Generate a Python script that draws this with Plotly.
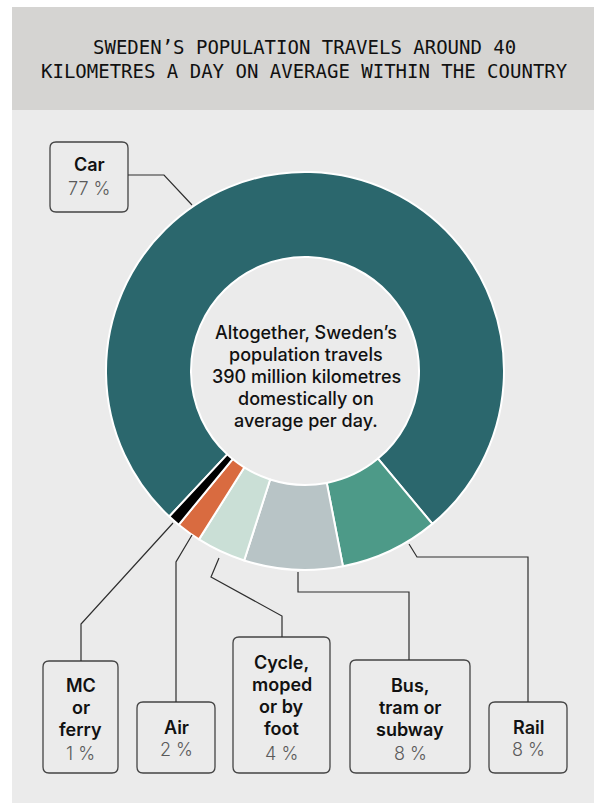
import plotly.graph_objects as go

# ---------------- data ----------------
categories = ["Car", "Rail", "Bus, tram or subway", "Cycle, moped or by foot", "Air", "MC or ferry"]
shares = [77, 8, 8, 4, 2, 1]
label_text = ["Car", "Rail", "Bus,<br>tram or<br>subway", "Cycle,<br>moped<br>or by<br>foot", "Air", "MC<br>or<br>ferry"]
slice_colors = ["#2b676d", "#4d9a88", "#b8c4c6", "#cadfd6", "#d96b40", "#000000"]
title_lines = ["SWEDEN\u2019S POPULATION TRAVELS AROUND 40",
               "KILOMETRES A DAY ON AVERAGE WITHIN THE COUNTRY"]
center_lines = ["Altogether, Sweden\u2019s", "population travels",
                "390 million kilometres", "domestically on", "average per day."]

# ---------------- layout geometry (pixels) ----------------
W, H = 594, 803
CX, CY, R_OUT, R_IN = 305, 371, 199, 114
LINE = 22  # line spacing in px

# box: (left, top, right, bottom, first-name-line-y, pct-y)
boxes = {
    "Car": (50, 142, 128, 212, 165, 188),
    "Rail": (489, 702, 567, 773, 727, 749),
    "Bus, tram or subway": (350, 660, 470, 773, 685, 753),
    "Cycle, moped or by foot": (233, 637, 330, 773, 662, 753),
    "Air": (137, 702, 215, 773, 727, 749),
    "MC or ferry": (43, 661, 118, 773, 685, 753),
}
leaders = {
    "Car": [(128, 175), (164, 175), (192, 205)],
    "Rail": [(409, 544), (417, 557), (528, 557), (528, 702)],
    "Bus, tram or subway": [(298, 572), (298, 592), (409, 592), (409, 660)],
    "Cycle, moped or by foot": [(219, 558), (211, 577), (282, 616), (282, 637)],
    "Air": [(192, 535), (176, 562), (176, 702)],
    "MC or ferry": [(173, 523), (81, 624), (81, 661)],
}


def X(px):
    return px / W


def Y(py):
    return 1 - py / H


def rounded_rect(x0, y0, x1, y1, r=6):
    rx, ry = r / W, r / H
    a, b, c, d = X(x0), Y(y0), X(x1), Y(y1)
    return (f"M {a+rx},{b} L {c-rx},{b} Q {c},{b} {c},{b-ry} "
            f"L {c},{d+ry} Q {c},{d} {c-rx},{d} "
            f"L {a+rx},{d} Q {a},{d} {a},{d+ry} "
            f"L {a},{b-ry} Q {a},{b} {a+rx},{b} Z")


def text_ann(x, y, txt, size, color, weight=400, family="Inter"):
    return dict(xref="paper", yref="paper", x=X(x), y=Y(y), text=txt,
                showarrow=False, xanchor="center", yanchor="middle",
                font=dict(family=family, size=size, color=color, weight=weight))


fig = go.Figure()

fig.add_trace(go.Pie(
    labels=categories,
    values=shares,
    sort=False,
    direction="clockwise",
    rotation=223,
    hole=R_IN / R_OUT,
    marker=dict(colors=slice_colors, line=dict(color="#ffffff", width=2)),
    textinfo="none",
    hoverinfo="label+percent",
    showlegend=False,
    domain=dict(x=[X(CX - R_OUT), X(CX + R_OUT)], y=[Y(CY + R_OUT), Y(CY - R_OUT)]),
))

shapes = [
    dict(type="rect", xref="paper", yref="paper", x0=X(12), x1=X(594), y0=Y(110), y1=Y(803),
         fillcolor="#ebebeb", line=dict(width=0), layer="below"),
    dict(type="rect", xref="paper", yref="paper", x0=X(12), x1=X(594), y0=Y(7), y1=Y(110),
         fillcolor="#d5d4d2", line=dict(width=0), layer="below"),
]

annotations = []
for cat, share, txt in zip(categories, shares, label_text):
    l, t, r, b, ny, py = boxes[cat]
    shapes.append(dict(type="path", xref="paper", yref="paper", path=rounded_rect(l, t, r, b),
                       fillcolor="#ebebeb", line=dict(color="#444444", width=1.3), layer="above"))
    pts = leaders[cat]
    path = "M " + " L ".join(f"{X(px)},{Y(py_)}" for px, py_ in pts)
    shapes.append(dict(type="path", xref="paper", yref="paper", path=path,
                       line=dict(color="#2e2e2e", width=1.2), layer="above"))
    cx = (l + r) / 2
    for i, line in enumerate(txt.split("<br>")):
        annotations.append(text_ann(cx, ny + i * LINE, line, 18, "#111111", 600))
    annotations.append(text_ann(cx, py, f"{share} %", 18, "#5a5a5a", 300))

for i, line in enumerate(center_lines):
    annotations.append(text_ann(CX + 1, 332 + i * 22.2, line, 18, "#111111", 500))

for i, line in enumerate(title_lines):
    annotations.append(text_ann(304, 47 + i * 24, line, 19, "#111111", 400, "DejaVu Sans Mono"))

fig.update_layout(
    width=W, height=H, autosize=False,
    margin=dict(l=0, r=0, t=0, b=0),
    paper_bgcolor="#ffffff", plot_bgcolor="#ffffff",
    shapes=shapes, annotations=annotations,
)

fig.write_html("out.html")
